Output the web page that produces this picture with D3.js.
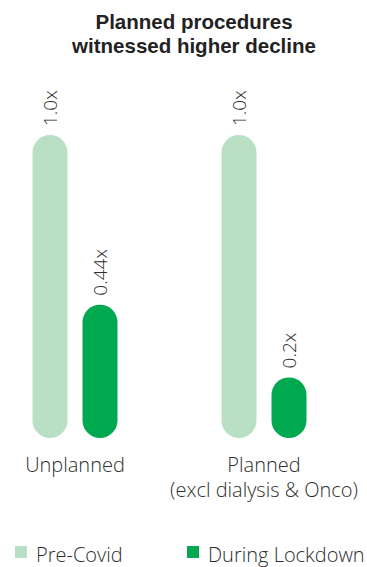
<!DOCTYPE html>
<html>
<head>
<meta charset="utf-8">
<script src="https://cdn.jsdelivr.net/npm/d3@7/dist/d3.min.js"></script>
<style>
  html, body { margin: 0; padding: 0; background: #fff; }
  svg { display: block; font-family: "Open Sans", "Noto Sans", sans-serif; }
</style>
</head>
<body>
<svg id="chart" width="367" height="567"></svg>
<script>
// Procedure volumes relative to pre-Covid levels
const categories = ["Unplanned", "Planned"];
const categorySubLabels = ["", "(excl dialysis & Onco)"];
const seriesNames = ["Pre-Covid", "During Lockdown"];
const preCovid = [1.0, 1.0];
const duringLockdown = [0.44, 0.2];
const valueLabels = [["1.0x", "0.44x"], ["1.0x", "0.2x"]];
const titleLines = ["Planned procedures", "witnessed higher decline"];

const colors = { "Pre-Covid": "#b9e0c5", "During Lockdown": "#00a84f" };
const textColor = "#2e2e2e";

const svg = d3.select("#chart");

// Two-line title (compact-metric face keeps the lines tight)
svg.append("g").selectAll("text")
  .data(titleLines)
  .join("text")
  .attr("x", 194)
  .attr("y", (d, i) => 29 + i * 23.5)
  .attr("text-anchor", "middle")
  .attr("font-family", "'Liberation Sans', Arial, sans-serif")
  .attr("font-size", 20.5)
  .attr("font-weight", 700)
  .attr("fill", "#222")
  .text(d => d);

// Scales
const baseline = 438;
const barTop = 135;
const y = d3.scaleLinear().domain([0, 1]).range([baseline, barTop]);
const x0 = d3.scalePoint().domain(categories).range([75, 264]);
const x1 = d3.scaleBand().domain(seriesNames).range([-42.5, 42.5])
  .paddingInner(0.3).paddingOuter(0);
const bw = x1.bandwidth();

const rows = categories.map((c, i) => ({
  category: c,
  bars: [
    { series: seriesNames[0], value: preCovid[i], label: valueLabels[i][0] },
    { series: seriesNames[1], value: duringLockdown[i], label: valueLabels[i][1] }
  ]
}));

const groups = svg.append("g").selectAll("g")
  .data(rows)
  .join("g")
  .attr("transform", d => `translate(${x0(d.category)},0)`);

// Rounded bars
groups.selectAll("rect")
  .data(d => d.bars)
  .join("rect")
  .attr("x", d => x1(d.series))
  .attr("y", d => y(d.value))
  .attr("width", bw)
  .attr("height", d => baseline - y(d.value))
  .attr("rx", bw / 2)
  .attr("ry", bw / 2)
  .attr("fill", d => colors[d.series]);

// Rotated value labels above each bar
groups.selectAll("text.value")
  .data(d => d.bars)
  .join("text")
  .attr("class", "value")
  .attr("transform", d => `translate(${x1(d.series) + bw / 2 + 7},${y(d.value) - 9}) rotate(-90)`)
  .attr("text-anchor", "start")
  .attr("font-size", 19)
  .attr("font-weight", 300)
  .attr("fill", textColor)
  .text(d => d.label);

// Category labels
const catLabels = svg.append("g");
catLabels.selectAll("text.cat")
  .data(categories)
  .join("text")
  .attr("class", "cat")
  .attr("x", d => x0(d))
  .attr("y", 472)
  .attr("text-anchor", "middle")
  .attr("font-size", 20)
  .attr("font-weight", 300)
  .attr("fill", textColor)
  .text(d => d);
catLabels.selectAll("text.sub")
  .data(categories.map((c, i) => ({ c, s: categorySubLabels[i] })).filter(d => d.s))
  .join("text")
  .attr("class", "sub")
  .attr("x", d => x0(d.c))
  .attr("y", 497)
  .attr("text-anchor", "middle")
  .attr("font-size", 20)
  .attr("font-weight", 300)
  .attr("fill", textColor)
  .text(d => d.s);

// Legend
const legendX = d3.scaleOrdinal().domain(seriesNames).range([15, 187]);
const legend = svg.append("g").selectAll("g")
  .data(seriesNames)
  .join("g")
  .attr("transform", d => `translate(${legendX(d)},546)`);
legend.append("rect")
  .attr("width", 12)
  .attr("height", 12)
  .attr("fill", d => colors[d]);
legend.append("text")
  .attr("x", 21)
  .attr("y", 16)
  .attr("font-size", 20)
  .attr("font-weight", 300)
  .attr("fill", textColor)
  .text(d => d);
</script>
</body>
</html>
